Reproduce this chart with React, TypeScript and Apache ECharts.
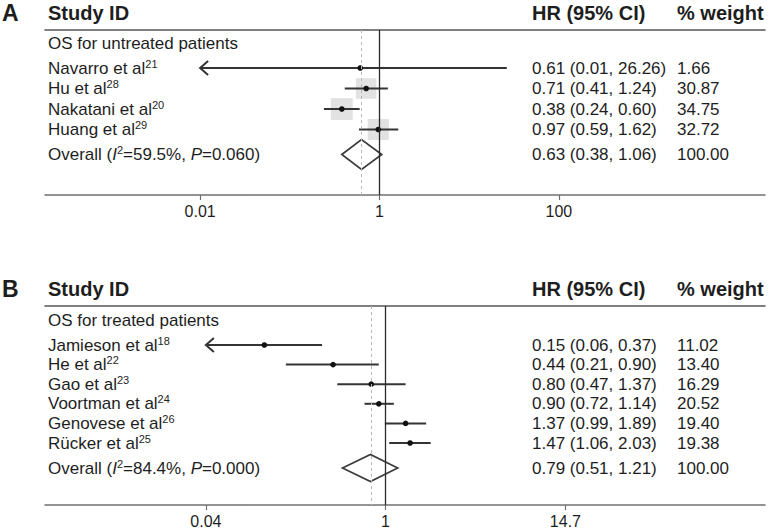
import React, { useEffect, useRef } from "react";
import * as echarts from "echarts";

// ---------- Panel A data ----------
const groupA = "OS for untreated patients";
const studiesA = ["Navarro et al", "Hu et al", "Nakatani et al", "Huang et al"];
const refsA = ["21", "28", "20", "29"];
const hrA = [0.61, 0.71, 0.38, 0.97];
const lowA = [0.01, 0.41, 0.24, 0.59];
const highA = [26.26, 1.24, 0.6, 1.62];
const weightA = [1.66, 30.87, 34.75, 32.72];
const overallA = [0.63, 0.38, 1.06]; // HR, low, high
const hetA = ["59.5%", "0.060"]; // I², P
const tickAtA = [0.01, 1, 100];
const tickLabelsA = ["0.01", "1", "100"];

// ---------- Panel B data ----------
const groupB = "OS for treated patients";
const studiesB = ["Jamieson et al", "He et al", "Gao et al", "Voortman et al", "Genovese et al", "Rücker et al"];
const refsB = ["18", "22", "23", "24", "26", "25"];
const hrB = [0.15, 0.44, 0.8, 0.9, 1.37, 1.47];
const lowB = [0.06, 0.21, 0.47, 0.72, 0.99, 1.06];
const highB = [0.37, 0.9, 1.37, 1.14, 1.89, 2.03];
const weightB = [11.02, 13.4, 16.29, 20.52, 19.4, 19.38];
const overallB = [0.79, 0.51, 1.21];
const hetB = ["84.4%", "0.000"];
// tick labels as printed; they sit where HR 0.06 and 16.75 fall on the plotted scale
const tickAtB = [0.06, 1, 16.75];
const tickLabelsB = ["0.04", "1", "14.7"];

const FONT = '"Liberation Sans", Arial, Helvetica, sans-serif';
const INK = "#1e1e1e";
const LINE = "#343434";
const ROW_FS = 17;

type Panel = {
  letter: string;
  group: string;
  studies: string[];
  refs: string[];
  hr: number[];
  low: number[];
  high: number[];
  weight: number[];
  overall: number[];
  het: string[];
  tickAt: number[];
  tickLabels: string[];
  boxes: boolean;
  L: { top: number; axisY: number; one: number; perDecade: number; row0: number; rowStep: number; gap: number; dHalf: number };
};

const panels: Panel[] = [
  {
    letter: "A", group: groupA, studies: studiesA, refs: refsA, hr: hrA, low: lowA, high: highA,
    weight: weightA, overall: overallA, het: hetA, tickAt: tickAtA, tickLabels: tickLabelsA, boxes: true,
    L: { top: 30, axisY: 195, one: 379.5, perDecade: 89.7, row0: 68, rowStep: 20.5, gap: 25, dHalf: 15 },
  },
  {
    letter: "B", group: groupB, studies: studiesB, refs: refsB, hr: hrB, low: lowB, high: highB,
    weight: weightB, overall: overallB, het: hetB, tickAt: tickAtB, tickLabels: tickLabelsB, boxes: false,
    L: { top: 306, axisY: 505, one: 385.5, perDecade: 147, row0: 345, rowStep: 19.6, gap: 25, dHalf: 13.5 },
  },
];

const X_LEFT = 45;
const X_RIGHT = 765;
const COL_NAME = 48;
const COL_HR = 532;
const COL_W = 677;

const rich = {
  n: { fontSize: ROW_FS, fontFamily: FONT, fill: INK, lineHeight: 20 },
  i: { fontSize: ROW_FS, fontFamily: FONT, fill: INK, lineHeight: 20, fontStyle: "italic" },
  s: { fontSize: 11, fontFamily: FONT, fill: INK, lineHeight: 14, verticalAlign: "top" },
};

const f2 = (v: number) => v.toFixed(2);

function buildOption() {
  const grid: any[] = [];
  const xAxis: any[] = [];
  const yAxis: any[] = [];
  const series: any[] = [];
  const graphic: any[] = [];

  panels.forEach((p, gi) => {
    const L = p.L;
    const xMin = (X_LEFT - L.one) / L.perDecade;
    const xMax = (X_RIGHT - L.one) / L.perDecade;
    const yMin = (L.top - L.row0) / L.rowStep;
    const yMax = (L.axisY - L.row0) / L.rowStep;
    const tickLog = p.tickAt.map((t) => Math.log10(t));
    const n = p.studies.length;
    const overallRow = n - 1 + L.gap / L.rowStep;

    grid.push({
      left: X_LEFT,
      width: X_RIGHT - X_LEFT,
      top: L.top,
      height: L.axisY - L.top,
      containLabel: false,
      outerBoundsMode: "none",
    });

    xAxis.push({
      type: "value",
      gridIndex: gi,
      position: "bottom",
      min: xMin,
      max: xMax,
      axisLine: { show: true, onZero: false, lineStyle: { color: "#707070", width: 1.5 } },
      axisTick: { show: true, customValues: tickLog, length: 5, lineStyle: { color: "#707070", width: 1.2 } },
      axisLabel: {
        show: true,
        customValues: tickLog,
        margin: 8,
        fontSize: 16,
        fontFamily: FONT,
        color: INK,
        formatter: (v: number) => {
          let bi = 0;
          tickLog.forEach((t, i) => {
            if (Math.abs(t - v) < Math.abs(tickLog[bi] - v)) bi = i;
          });
          return p.tickLabels[bi];
        },
      },
      splitLine: { show: false },
    });
    xAxis.push({
      type: "value",
      gridIndex: gi,
      position: "top",
      min: xMin,
      max: xMax,
      axisLine: { show: true, onZero: false, lineStyle: { color: "#555555", width: 1.5 } },
      axisTick: { show: false },
      axisLabel: { show: false },
      splitLine: { show: false },
    });
    yAxis.push({
      type: "value",
      gridIndex: gi,
      inverse: true,
      min: yMin,
      max: yMax,
      show: false,
      splitLine: { show: false },
    });

    const xIdx = gi * 2;
    const lowLimit = tickLog[0];

    // study rows
    series.push({
      type: "custom",
      name: `studies${p.letter}`,
      xAxisIndex: xIdx,
      yAxisIndex: gi,
      silent: true,
      clip: false,
      z: 3,
      encode: { x: [0, 1, 2], y: 3 },
      data: p.studies.map((_, i) => [
        Math.log10(p.low[i]),
        Math.log10(p.high[i]),
        Math.log10(p.hr[i]),
        i,
        p.weight[i],
      ]),
      renderItem: (params: any, api: any) => {
        const i = params.dataIndex;
        const lo = api.value(0);
        const hi = api.value(1);
        const mid = api.value(2);
        const y = api.value(3);
        const w = api.value(4);
        const clipped = lo <= lowLimit + 1e-6;
        const pL = api.coord([Math.max(lo, lowLimit), y]);
        const pH = api.coord([hi, y]);
        const pM = api.coord([mid, y]);
        const children: any[] = [];
        if (p.boxes) {
          const s = 3.7 * Math.sqrt(w);
          children.push({
            type: "rect",
            shape: { x: pM[0] - s / 2, y: pM[1] - s / 2, width: s, height: s },
            style: { fill: "#e2e2e2" },
          });
        }
        children.push({
          type: "line",
          shape: { x1: pL[0], y1: pL[1], x2: pH[0], y2: pH[1] },
          style: { stroke: LINE, lineWidth: 2 },
        });
        if (clipped) {
          children.push({
            type: "polyline",
            shape: { points: [[pL[0] + 8, pL[1] - 7], [pL[0], pL[1]], [pL[0] + 8, pL[1] + 7]] },
            style: { stroke: LINE, lineWidth: 2, fill: null },
          });
        }
        children.push({
          type: "circle",
          shape: { cx: pM[0], cy: pM[1], r: 2.8 },
          style: { fill: "#111111" },
        });
        children.push({
          type: "text",
          style: {
            x: COL_NAME,
            y: pM[1],
            text: `{n|${p.studies[i]}}{s|${p.refs[i]}}`,
            rich,
            align: "left",
            verticalAlign: "middle",
          },
        });
        children.push({
          type: "text",
          style: {
            x: COL_HR,
            y: pM[1],
            text: `${f2(p.hr[i])} (${f2(p.low[i])}, ${f2(p.high[i])})`,
            fontSize: ROW_FS,
            fontFamily: FONT,
            fill: INK,
            align: "left",
            verticalAlign: "middle",
          },
        });
        children.push({
          type: "text",
          style: {
            x: COL_W,
            y: pM[1],
            text: f2(p.weight[i]),
            fontSize: ROW_FS,
            fontFamily: FONT,
            fill: INK,
            align: "left",
            verticalAlign: "middle",
          },
        });
        return { type: "group", children };
      },
    });

    // overall diamond + reference lines
    const totalW = p.weight.reduce((a, b) => a + b, 0);
    series.push({
      type: "custom",
      name: `overall${p.letter}`,
      xAxisIndex: xIdx,
      yAxisIndex: gi,
      silent: true,
      clip: false,
      z: 4,
      encode: { x: [0, 1, 2], y: 3 },
      data: [[Math.log10(p.overall[1]), Math.log10(p.overall[2]), Math.log10(p.overall[0]), overallRow]],
      renderItem: (params: any, api: any) => {
        const lo = api.coord([api.value(0), api.value(3)]);
        const hi = api.coord([api.value(1), api.value(3)]);
        const mid = api.coord([api.value(2), api.value(3)]);
        const h = L.dHalf;
        return {
          type: "group",
          children: [
            {
              type: "polygon",
              shape: { points: [[lo[0], lo[1]], [mid[0], mid[1] - h], [hi[0], hi[1]], [mid[0], mid[1] + h]] },
              style: { stroke: "#3c3c3c", lineWidth: 1.7, fill: null },
            },
            {
              type: "text",
              style: {
                x: COL_NAME,
                y: mid[1],
                text: `{n|Overall (}{i|I}{s|2}{n|=${p.het[0]}, }{i|P}{n|=${p.het[1]})}`,
                rich,
                align: "left",
                verticalAlign: "middle",
              },
            },
            {
              type: "text",
              style: {
                x: COL_HR,
                y: mid[1],
                text: `${f2(p.overall[0])} (${f2(p.overall[1])}, ${f2(p.overall[2])})`,
                fontSize: ROW_FS,
                fontFamily: FONT,
                fill: INK,
                align: "left",
                verticalAlign: "middle",
              },
            },
            {
              type: "text",
              style: {
                x: COL_W,
                y: mid[1],
                text: Math.round(totalW) === 100 ? "100.00" : f2(totalW),
                fontSize: ROW_FS,
                fontFamily: FONT,
                fill: INK,
                align: "left",
                verticalAlign: "middle",
              },
            },
          ],
        };
      },
      markLine: {
        silent: true,
        symbol: ["none", "none"],
        label: { show: false },
        animation: false,
        data: [
          { xAxis: 0, lineStyle: { color: "#2a2a2a", width: 1.3, type: "solid" } },
          { xAxis: Math.log10(p.overall[0]), lineStyle: { color: "#b8b8b8", width: 1, type: [3, 3] } },
        ],
      },
    });

    // headers
    const hy = L.top - 17;
    graphic.push(
      { type: "text", x: 2, y: hy, style: { text: p.letter, fontSize: 23, fontWeight: "bold", fontFamily: FONT, fill: INK, verticalAlign: "middle" } },
      { type: "text", x: COL_NAME, y: hy, style: { text: "Study ID", fontSize: 20, fontWeight: "bold", fontFamily: FONT, fill: INK, verticalAlign: "middle" } },
      { type: "text", x: COL_HR, y: hy, style: { text: "HR (95% CI)", fontSize: 20, fontWeight: "bold", fontFamily: FONT, fill: INK, verticalAlign: "middle" } },
      { type: "text", x: COL_W, y: hy, style: { text: "% weight", fontSize: 20, fontWeight: "bold", fontFamily: FONT, fill: INK, verticalAlign: "middle" } },
      { type: "text", x: COL_NAME, y: L.row0 - L.gap, style: { text: p.group, fontSize: ROW_FS, fontFamily: FONT, fill: INK, verticalAlign: "middle" } }
    );
  });

  return {
    animation: false,
    backgroundColor: "#ffffff",
    grid,
    xAxis,
    yAxis,
    series,
    graphic,
  };
}

export default function App() {
  const ref = useRef<HTMLDivElement>(null);
  useEffect(() => {
    if (!ref.current) return;
    const chart = echarts.init(ref.current, null, { renderer: "svg" });
    chart.setOption(buildOption() as any);
    return () => chart.dispose();
  }, []);
  return (
    <div
      ref={ref}
      style={{ position: "absolute", left: 0, top: 0, width: 768, height: 529, background: "#fff" }}
    />
  );
}
